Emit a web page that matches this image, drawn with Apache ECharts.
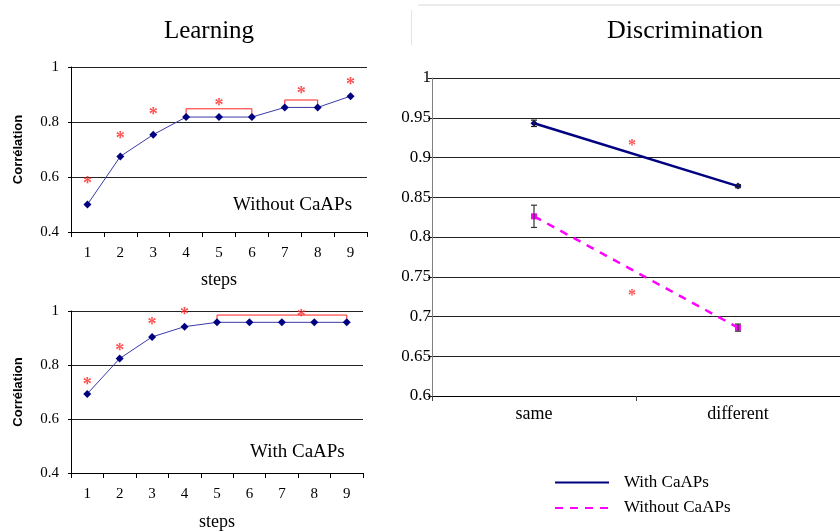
<!DOCTYPE html>
<html>
<head>
<meta charset="utf-8">
<script src="https://cdn.jsdelivr.net/npm/echarts@6/dist/echarts.min.js"></script>
<style>html,body{margin:0;padding:0;background:#fff;}#c{width:840px;height:532px;}</style>
</head>
<body>
<div id="c"></div>
<script>
// ---- data ----
const steps = ['1','2','3','4','5','6','7','8','9'];
const learnWithout = [0.50, 0.675, 0.754, 0.818, 0.818, 0.818, 0.853, 0.853, 0.894];
const learnWith = [0.693, 0.824, 0.904, 0.942, 0.958, 0.958, 0.958, 0.958, 0.958];
const starsWithout = [[1, 0.589], [2, 0.75], [3, 0.838], [5, 0.872], [7.5, 0.916], [9, 0.947]];
const bracketsWithout = [
  [[4, 0.818], [4, 0.848], [6, 0.848], [6, 0.818]],
  [[7, 0.853], [7, 0.88], [8, 0.88], [8, 0.853]]
];
const starsWith = [[1, 0.738], [2, 0.866], [3, 0.96], [4, 0.997], [7.6, 0.99]];
const bracketsWith = [
  [[5, 0.958], [5, 0.985], [9, 0.985], [9, 0.958]]
];
const discCats = ['same', 'different'];
const discWith = [0.943, 0.864];
const discWithErr = [0.004, 0.002];
const discWithout = [0.826, 0.686];
const discWithoutErr = [0.014, 0.0045];
const discStars = [[0.98, 0.92], [0.98, 0.731]];
const learnTicks = [0.4, 0.2, 1];   // min, interval, max
const discTicks = [0.6, 0.05, 1];

const serif = 'Liberation Serif';
const chart = echarts.init(document.getElementById('c'));

function starSeries(data, xi, yi, fs) {
  return {
    type: 'scatter', xAxisIndex: xi, yAxisIndex: yi, data: data,
    symbol: 'circle', symbolSize: 1, itemStyle: {color: 'rgba(0,0,0,0)'},
    silent: true, z: 5,
    label: {show: true, formatter: '*', position: 'inside', color: '#ff2424',
      fontFamily: serif, fontSize: fs, fontWeight: 'bold', offset: [0, 4]}
  };
}
function bracketSeries(list, xi, yi) {
  return list.map(b => ({
    type: 'line', xAxisIndex: xi, yAxisIndex: yi, data: b, symbol: 'none',
    lineStyle: {color: '#ff2020', width: 1}, silent: true, z: 1
  }));
}
function errSeries(vals, errs, color) {
  const d = vals.map((v, i) => [i, v - errs[i], v + errs[i]]);
  return {
    type: 'custom', xAxisIndex: 4, yAxisIndex: 2, data: d, z: 6, silent: true,
    renderItem: function (params, api) {
      const x = api.value(0);
      const p1 = api.coord([x, api.value(1)]);
      const p2 = api.coord([x, api.value(2)]);
      const w = 3;
      const st = {stroke: color, lineWidth: 1.2};
      return {type: 'group', children: [
        {type: 'line', shape: {x1: p1[0], y1: p1[1], x2: p2[0], y2: p2[1]}, style: st},
        {type: 'line', shape: {x1: p1[0] - w, y1: p1[1], x2: p1[0] + w, y2: p1[1]}, style: st},
        {type: 'line', shape: {x1: p2[0] - w, y1: p2[1], x2: p2[0] + w, y2: p2[1]}, style: st}
      ]};
    }
  };
}

const catX = (gi, labelMargin) => ({
  type: 'category', gridIndex: gi, data: steps, boundaryGap: true,
  axisLine: {lineStyle: {color: '#000', width: 1}},
  axisTick: {show: true, length: 5, lineStyle: {color: '#000'}},
  axisLabel: {color: '#000', fontFamily: serif, fontSize: 15, margin: labelMargin},
  name: 'steps', nameLocation: 'middle', nameGap: 39,
  nameTextStyle: {color: '#000', fontFamily: serif, fontSize: 18}
});
const valX = (gi, mn, mx) => ({type: 'value', gridIndex: gi, min: mn, max: mx, show: false});
const learnY = (gi) => ({
  type: 'value', gridIndex: gi, min: learnTicks[0], interval: learnTicks[1], max: learnTicks[2],
  axisLine: {show: true, lineStyle: {color: '#000'}},
  axisTick: {show: true, length: 3, lineStyle: {color: '#000'}},
  axisLabel: {color: '#000', fontFamily: serif, fontSize: 15, margin: 12},
  splitLine: {lineStyle: {color: '#222', width: 1}},
  name: 'Corrélation', nameLocation: 'middle', nameGap: 46,
  nameTextStyle: {color: '#000', fontFamily: 'Liberation Sans', fontSize: 13, fontWeight: 'bold'}
});

const option = {
  animation: false,
  backgroundColor: '#fff',
  grid: [
    {left: 71, top: 67, width: 296, height: 165},
    {left: 71, top: 311, width: 292, height: 164},
    {left: 432, top: 78, width: 408, height: 318}
  ],
  xAxis: [
    catX(0, 14), valX(0, 0.5, 9.5),
    Object.assign(catX(1, 14), {nameGap: 40}), valX(1, 0.5, 9.5),
    {
      type: 'category', gridIndex: 2, data: discCats, boundaryGap: true,
      axisLine: {lineStyle: {color: '#000'}},
      axisTick: {show: true, length: 5, lineStyle: {color: '#444'}},
      axisLabel: {color: '#000', fontFamily: serif, fontSize: 18, margin: 9}
    },
    valX(2, 0, 2)
  ],
  yAxis: [
    learnY(0), learnY(1),
    {
      type: 'value', gridIndex: 2, min: discTicks[0], interval: discTicks[1], max: discTicks[2],
      axisLine: {show: true, lineStyle: {color: '#808080'}},
      axisTick: {show: true, length: 4, lineStyle: {color: '#222'}},
      axisLabel: {color: '#000', fontFamily: serif, fontSize: 17, margin: 1},
      splitLine: {lineStyle: {color: '#222', width: 1.2}}
    }
  ],
  legend: {
    orient: 'vertical', left: 549, top: 469, itemWidth: 54, itemHeight: 14, itemGap: 8.5,
    data: ['With CaAPs', 'Without CaAPs'],
    itemStyle: {opacity: 0},
    textStyle: {color: '#000', fontFamily: serif, fontSize: 17, padding: [0, 0, 0, 10]}
  },
  graphic: [
    {type: 'text', x: 209, y: 31, style: {text: 'Learning', font: '25px "Liberation Serif"', fill: '#000', align: 'center', verticalAlign: 'middle'}},
    {type: 'text', x: 685, y: 31, style: {text: 'Discrimination', font: '26px "Liberation Serif"', fill: '#000', align: 'center', verticalAlign: 'middle'}},
    {type: 'text', x: 233, y: 205, style: {text: 'Without CaAPs', font: '19px "Liberation Serif"', fill: '#000', align: 'left', verticalAlign: 'middle'}},
    {type: 'text', x: 250, y: 452, style: {text: 'With CaAPs', font: '19px "Liberation Serif"', fill: '#000', align: 'left', verticalAlign: 'middle'}},
    {type: 'line', shape: {x1: 418, y1: 5, x2: 840, y2: 5}, style: {stroke: '#d8d8d8', lineWidth: 1}},
    {type: 'line', shape: {x1: 411.5, y1: 10, x2: 411.5, y2: 45}, style: {stroke: '#e4e4e4', lineWidth: 1}}
  ],
  series: [
    {
      name: 'Learning without CaAPs', type: 'line', xAxisIndex: 0, yAxisIndex: 0, data: learnWithout,
      symbol: 'diamond', symbolSize: 8, itemStyle: {color: '#000080'},
      lineStyle: {color: '#3a3aa8', width: 1}, z: 3
    },
    starSeries(starsWithout, 1, 0, 18),
    ...bracketSeries(bracketsWithout, 1, 0),
    {
      name: 'Learning with CaAPs', type: 'line', xAxisIndex: 2, yAxisIndex: 1, data: learnWith,
      symbol: 'diamond', symbolSize: 8, itemStyle: {color: '#000080'},
      lineStyle: {color: '#3a3aa8', width: 1}, z: 3
    },
    starSeries(starsWith, 3, 1, 18),
    ...bracketSeries(bracketsWith, 3, 1),
    {
      name: 'With CaAPs', type: 'line', xAxisIndex: 4, yAxisIndex: 2, data: discWith,
      symbol: 'diamond', symbolSize: 7, itemStyle: {color: '#000080'},
      lineStyle: {color: '#000080', width: 2.5}, z: 3
    },
    {
      name: 'Without CaAPs', type: 'line', xAxisIndex: 4, yAxisIndex: 2, data: discWithout,
      symbol: 'rect', symbolSize: 6, itemStyle: {color: '#ff00ff'},
      lineStyle: {color: '#ff00ff', width: 2.5, type: [8, 7]}, z: 3
    },
    errSeries(discWith, discWithErr, '#222'),
    errSeries(discWithout, discWithoutErr, '#333'),
    starSeries(discStars, 5, 2, 16)
  ]
};
chart.setOption(option);
</script>
</body>
</html>
